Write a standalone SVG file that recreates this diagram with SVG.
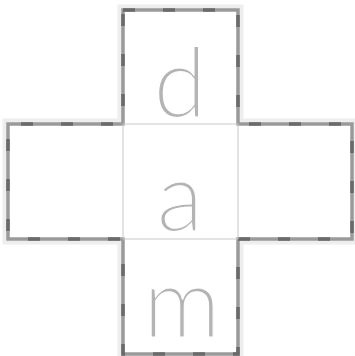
<svg xmlns="http://www.w3.org/2000/svg" width="355" height="356" viewBox="0 0 355 356">
<defs>
<style>
.frame{fill:#ffffff;stroke:#9a9a9a;stroke-width:3.5}
.shadow{fill:none;stroke:#eeeeee;stroke-width:7}
.dash{fill:none;stroke:#6a6a6a;stroke-width:3.5;stroke-dasharray:12 28}
.inner{stroke:#c8c8c8;stroke-width:1;fill:none}
.letter{font-family:Lato,"Open Sans",sans-serif;font-weight:300;font-size:96px;fill:#b4b4b4;stroke:#ffffff;stroke-width:1.1;text-anchor:middle}
</style>
</defs>
<rect x="0" y="0" width="355" height="356" fill="#ffffff"/>
<g id="outline">
<path class="shadow" d="M121,8 H240 V122 H354 V241 H240 V356 H121 V241 H6 V122 H121 Z"/>
<path class="frame" d="M123,10 H238 V124 H352 V239 H238 V354 H123 V239 H8 V124 H123 Z"/>
<path class="dash" d="M123,10 H238 V124 H352 V239 H238 V354 H123 V239 H8 V124 H123 Z"/>
</g>
<g id="connectors">
<line class="inner" x1="123" y1="124" x2="238" y2="124"/>
<line class="inner" x1="123" y1="239" x2="238" y2="239"/>
<line class="inner" x1="123" y1="124" x2="123" y2="239"/>
<line class="inner" x1="238" y1="124" x2="238" y2="239"/>
</g>
<g id="node-top"><text class="letter" x="180" y="117">d</text></g>
<g id="node-left"></g>
<g id="node-center"><text class="letter" x="180" y="231">a</text></g>
<g id="node-right"></g>
<g id="node-bottom"><text class="letter" x="182" y="337">m</text></g>
</svg>
